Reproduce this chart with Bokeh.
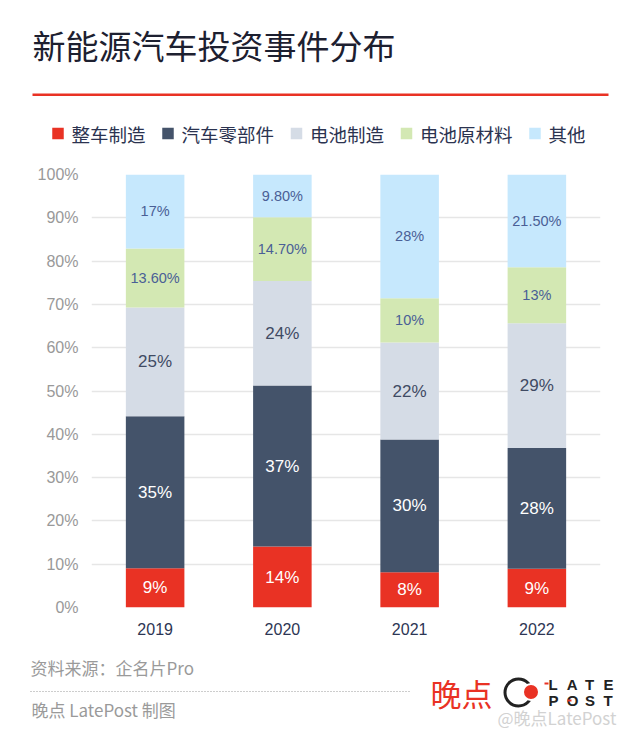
import numpy as np
from bokeh.plotting import figure
from bokeh.layouts import column
from bokeh.models import (ColumnDataSource, Range1d, FactorRange, FixedTicker,
                          PrintfTickFormatter)
from bokeh.core.properties import value
from bokeh.embed import file_html
from bokeh.resources import INLINE

# ---------------- data ----------------
years = ["2019", "2020", "2021", "2022"]
categories = ["整车制造", "汽车零部件", "电池制造", "电池原材料", "其他"]
vehicle = [9, 14, 8, 9]
parts = [35, 37, 30, 28]
battery = [25, 24, 22, 29]
materials = [13.6, 14.7, 10, 13]
others = [17, 9.8, 28, 21.5]
y_ticks = [0, 10, 20, 30, 40, 50, 60, 70, 80, 90, 100]

title_text = "新能源汽车投资事件分布"
source_text = "资料来源：企名片Pro"
credit_text = "晚点 LatePost 制图"
brand_cn = "晚点"
brand_top = "LATE"
brand_bottom = "POST"
watermark = "@晚点LatePost"

# ---------------- style ----------------
colors = ["#e93224", "#44536a", "#d5dce6", "#d3e8b3", "#c6e8fd"]
label_colors = ["#ffffff", "#ffffff", "#3f4a63", "#4a5f96", "#4a5f96"]
label_sizes = ["17px", "17px", "17px", "14.5px", "14.5px"]
RED = "#e93224"
CJK = "Noto Sans CJK SC"
NUM = "Liberation Sans"

W = 640
H_HEAD, H_CHART, H_FOOT = 160, 490, 89


def panel(y0, h):
    """A blank figure whose data units are page pixels (y grows downward)."""
    f = figure(width=W, height=h, x_range=Range1d(0, W), y_range=Range1d(y0 + h, y0),
               x_axis_type=None, y_axis_type=None, output_backend="svg",
               toolbar_location=None, min_border=0, frame_align=False)
    f.outline_line_color = None
    f.grid.visible = False
    return f


# ---------------- header: title, rule, legend ----------------
head = panel(0, H_HEAD)
head.text(x=[32], y=[44], text=[title_text], text_font=value(CJK),
          text_font_size="33px", text_color="#1d2030", text_baseline="middle")
head.quad(left=[32], right=[608], top=[93], bottom=[95.5], fill_color=RED,
          line_color=None)

LEG_FS = 18.5
sw_x, tx_x = [], []
cur = 52
for c in categories:
    sw_x.append(cur + 5.5)
    tx_x.append(cur + 19)
    cur += 19 + LEG_FS * len(c) + 17
head.rect(x=sw_x, y=[133] * len(categories), width=11.5, height=11.5,
          fill_color=colors, line_color=None)
head.text(x=tx_x, y=[133] * len(categories), text=categories, text_font=value(CJK),
          text_font_size=f"{LEG_FS}px", text_color="#2b3350", text_baseline="middle")

# ---------------- chart ----------------
series = [vehicle, parts, battery, materials, others]
raw = np.array(series, dtype=float)
share = raw / raw.sum(axis=0) * 100.0

keys = [f"s{i}" for i in range(len(categories))]
data = {"years": years}
for k, row in zip(keys, share):
    data[k] = list(row)
src = ColumnDataSource(data)

p = figure(x_range=FactorRange(*years), y_range=Range1d(0, 100),
           width=W, height=H_CHART, output_backend="svg", toolbar_location=None,
           min_border_left=91, min_border_right=40, min_border_top=14,
           min_border_bottom=43, frame_align=False)
p.outline_line_color = None
p.x_range.range_padding = 0

p.vbar_stack(keys, x="years", width=0.46, source=src, color=colors, line_color=None)

lx, ly, lt, lc, ls = [], [], [], [], []
cum = np.zeros(len(years))
for i, row in enumerate(share):
    for j, yr in enumerate(years):
        lx.append(yr)
        ly.append(cum[j] + row[j] / 2)
        v = raw[i][j]
        lt.append(f"{int(v)}%" if float(v).is_integer() else f"{v:.2f}%")
        lc.append(label_colors[i])
        ls.append(label_sizes[i])
    cum += row
lsrc = ColumnDataSource(dict(x=lx, y=ly, t=lt, c=lc, s=ls))
p.text(x="x", y="y", text="t", source=lsrc, text_color="c", text_font_size="s",
       text_align="center", text_baseline="middle", text_font=value(NUM))

p.yaxis.ticker = FixedTicker(ticks=y_ticks)
p.yaxis.formatter = PrintfTickFormatter(format="%d%%")
p.yaxis.axis_line_color = None
p.yaxis.major_tick_line_color = None
p.yaxis.minor_tick_line_color = None
p.yaxis.major_label_standoff = 7
p.yaxis.major_label_text_font_size = "16px"
p.yaxis.major_label_text_color = "#999999"
p.yaxis.major_label_text_font = NUM

p.xaxis.axis_line_color = None
p.xaxis.major_tick_line_color = None
p.xaxis.major_label_standoff = 9
p.xaxis.major_label_text_font_size = "16px"
p.xaxis.major_label_text_color = "#2d3654"
p.xaxis.major_label_text_font = NUM

p.xgrid.grid_line_color = None
p.ygrid.ticker = FixedTicker(ticks=y_ticks[1:])
p.ygrid.grid_line_color = "#e6e6e6"
p.ygrid.grid_line_width = 1.5

# ---------------- footer ----------------
y0 = H_HEAD + H_CHART
foot = panel(y0, H_FOOT)
foot.text(x=[30, 31], y=[667, 709], text=[source_text, credit_text],
          text_font=value(CJK), text_font_size="17px", text_color="#9a9a9a",
          text_baseline="middle")
foot.line(x=[30, 410], y=[691, 691], line_color="#9a9a9a", line_width=1,
          line_dash="1 2")
foot.text(x=[430], y=[692], text=[brand_cn], text_font=value(CJK),
          text_font_size="31px", text_color=RED, text_baseline="middle")
foot.circle(x=[518], y=[692], radius=13.5, fill_color=None, line_color="#222222",
            line_width=3)
foot.circle(x=[530.5], y=[691.5], radius=8, fill_color=RED, line_color="white",
            line_width=2)
bx, by, bt = [], [], []
for word, yy in ((brand_top, 684), (brand_bottom, 700)):
    for k, ch in enumerate(word):
        bx.append(548 + k * 18.3)
        by.append(yy)
        bt.append(ch)
foot.text(x=bx, y=by, text=bt, text_font=value(NUM), text_font_size="15px",
          text_font_style="bold", text_color="#222222", text_baseline="middle")
foot.quad(left=[544, 567], right=[548, 571], top=[682, 699], bottom=[684, 701],
          fill_color=RED, line_color=None)
foot.text(x=[497], y=[717], text=[watermark], text_font=value(CJK),
          text_font_size="17px", text_color="#d2d2d2", text_baseline="middle")

layout = column(head, p, foot, spacing=0)
open("out.html", "w").write(file_html(layout, INLINE))
